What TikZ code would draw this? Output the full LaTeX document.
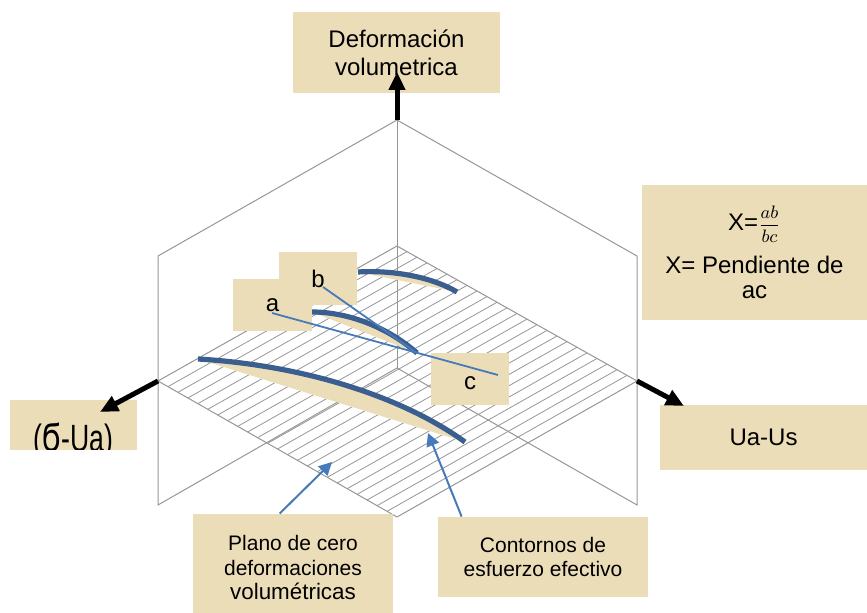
\documentclass[tikz,border=0pt]{standalone}
\usepackage{fontspec}
\setmainfont{Liberation Sans}
\newfontfamily\dejavu{DejaVu Sans}
\usetikzlibrary{arrows.meta,calc}
\definecolor{paper}{RGB}{236,221,185}
\definecolor{curveblue}{RGB}{59,94,145}
\definecolor{lineblue}{RGB}{70,122,186}
\definecolor{gridgray}{RGB}{150,150,150}
\begin{document}
\begin{tikzpicture}[x=0.5pt,y=-0.5pt,
  wall/.style={draw=gridgray,line width=0.5pt},
  hatch/.style={draw=gridgray,line width=0.4pt},
  paperbox/.style={fill=paper,draw=none,inner sep=0pt,align=center},
  axisarrow/.style={line width=2.5pt,-{Triangle[length=9pt,width=8pt]}},
  pointer/.style={draw=lineblue,line width=1pt,-{Triangle[length=6.5pt,width=6.5pt]}},
  contour/.style={draw=curveblue,line width=2.6pt},
  sliver/.style={fill=paper},
  chord/.style={draw=lineblue,line width=0.9pt},
  big/.style={font=\fontsize{12}{14}\selectfont},
  small/.style={font=\fontsize{10.5}{12.3}\selectfont}
]
\useasboundingbox (0,0) rectangle (867,613);

% box frame
\coordinate (top) at (397,120);
\coordinate (o) at (397,368);
\coordinate (lwt) at (158,256);
\coordinate (lwb) at (158,505);
\coordinate (rwt) at (637,256);
\coordinate (rwb) at (637,505);
\coordinate (B) at (397,246);
\coordinate (L) at (158,381);
\coordinate (F) at (397,517);
\coordinate (R) at (637,381);

\draw[wall] (top) -- (lwt) -- (lwb) -- (o) -- (rwb) -- (rwt) -- cycle;
\draw[wall] (top) -- (o);
\draw[wall] (B) -- (L) -- (F) -- (R) -- cycle;
\foreach \i in {1,...,23}
  \draw[hatch] ($(L)!\i/24!(F)$) -- ($(B)!\i/24!(R)$);

% contours
\coordinate (c1s) at (358,272);
\coordinate (c1e) at (457,292);
\coordinate (c2s) at (312,312);
\coordinate (c2e) at (417,353);
\coordinate (c3s) at (198,359);
\coordinate (c3e) at (465,442);
\fill[sliver] (c1s) .. controls (390,270) and (430,276) .. (c1e) -- cycle;
\draw[contour] (c1s) .. controls (390,270) and (430,276) .. (c1e);
\fill[sliver] (c2s) .. controls (345,312) and (385,325) .. (c2e) -- cycle;
\draw[contour] (c2s) .. controls (345,312) and (385,325) .. (c2e);
\fill[sliver] (c3s) .. controls (300,365) and (400,395) .. (c3e) -- cycle;
\draw[contour] (c3s) .. controls (300,365) and (400,395) .. (c3e);

% label boxes
\node[paperbox,big,minimum width=103.5pt,minimum height=40.5pt] (defo) at (396.5,52.5) {Deformación\\volumetrica};
\node[paperbox,font=\fontsize{12}{12.5}\selectfont,minimum width=112.5pt,minimum height=67.5pt] (form) at (754.5,252.5)
  {X={\fontsize{9.5}{10}\selectfont$\displaystyle\frac{ab}{bc}$}\\[6pt] X= Pendiente de\\ac};
\node[paperbox,minimum width=63.5pt,minimum height=25pt,
  path picture={\node[anchor=base,inner sep=0pt,font=\fontsize{19}{21}\selectfont]
     at ($(path picture bounding box.center)+(0,27)$) {\scalebox{0.7}[1]{({\dejavu Ϭ}-Ua)}};}] (sig) at (73.5,425) {};
\node[paperbox,big,minimum width=103.5pt,minimum height=32.5pt] (uaus) at (763.5,437.5) {Ua-Us};
\node[paperbox,small,minimum width=100pt,minimum height=49.5pt] (plano) at (293,563.5)
  {\rule{0pt}{12pt}Plano de cero\\deformaciones\\{\fontsize{11.2}{12.3}\selectfont volumétricas}};
\node[paperbox,small,minimum width=105pt,minimum height=40pt] (cont) at (543,557) {Contornos de\\esfuerzo efectivo};
\node[paperbox,big,minimum width=39pt,minimum height=26.5pt] (bbox) at (318,278.5) {b};
\node[paperbox,big,minimum width=39.5pt,minimum height=26pt] (abox) at (272.5,305) {a};
\node[paperbox,big,minimum width=39pt,minimum height=26pt] (cbox) at (470,379) {\rule{0pt}{11pt}c};

% axes
\coordinate (ztip) at (397,72);
\coordinate (xtip) at (100,412);
\coordinate (ytip) at (684,406);
\draw[axisarrow] (top) -- (ztip);
\draw[axisarrow] (L) -- (xtip);
\draw[axisarrow] (R) -- (ytip);

% slope lines
\coordinate (apt) at (272,313);
\coordinate (bpt) at (323,287);
\coordinate (cpt) at (498,375);
\draw[chord] (apt) -- (cpt);
\draw[chord] (bpt) -- (c2e);

% pointers
\coordinate (ptip1) at (332,462);
\coordinate (ptip2) at (428,433);
\draw[pointer] ($(plano.north west)+(87,0)$) -- (ptip1);
\draw[pointer] ($(cont.north west)+(24,0)$) -- (ptip2);
\end{tikzpicture}
\end{document}
